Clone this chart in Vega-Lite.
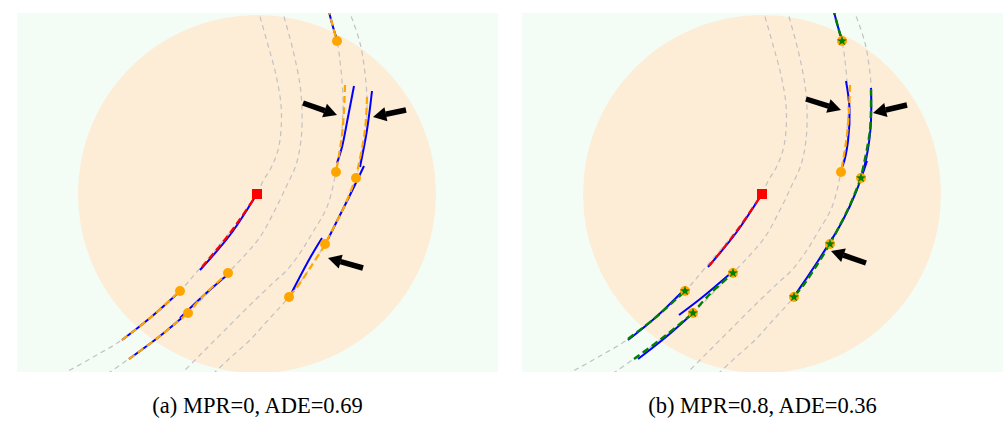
{
  "$schema": "https://vega.github.io/schema/vega-lite/v6.json",
  "background": "white",
  "padding": {"left": 17, "top": 13, "right": 0, "bottom": 0},
  "spacing": 24,
  "config": {
    "view": {"fill": "#f3fdf5", "stroke": null},
    "title": {"font": "Liberation Serif", "fontSize": 22.5, "fontWeight": "normal", "color": "#000000", "orient": "bottom", "offset": 23, "anchor": "middle"}
  },
  "datasets": {
    "circle": [{"x": 0, "y": 0}],
    "lanes": [
      {"lane": "G1", "x": 0.05, "y": 18.6}, {"lane": "G1", "x": 1.1, "y": 14.9}, {"lane": "G1", "x": 1.9, "y": 11.9}, {"lane": "G1", "x": 2.4, "y": 8.9}, {"lane": "G1", "x": 2.4, "y": 6.4}, {"lane": "G1", "x": 2.1, "y": 4.4}, {"lane": "G1", "x": 1.4, "y": 2.6}, {"lane": "G1", "x": 0.6, "y": 1.3}, {"lane": "G1", "x": 0, "y": 0}, {"lane": "G1", "x": -2.7, "y": -3.8}, {"lane": "G1", "x": -5.7, "y": -7.4}, {"lane": "G1", "x": -7.7, "y": -9.7}, {"lane": "G1", "x": -10.7, "y": -12.4}, {"lane": "G1", "x": -13.5, "y": -14.6}, {"lane": "G1", "x": -16.2, "y": -16.2}, {"lane": "G1", "x": -18.7, "y": -17.6}, {"lane": "G1", "x": -19.7, "y": -18.1},
      {"lane": "G2", "x": 2.45, "y": 18.6}, {"lane": "G2", "x": 3.6, "y": 14.4}, {"lane": "G2", "x": 4.3, "y": 10.9}, {"lane": "G2", "x": 4.5, "y": 8.4}, {"lane": "G2", "x": 4.4, "y": 5.4}, {"lane": "G2", "x": 3.9, "y": 2.9}, {"lane": "G2", "x": 3.0, "y": 0.9}, {"lane": "G2", "x": 1.8, "y": -1.6}, {"lane": "G2", "x": 0.3, "y": -4.3}, {"lane": "G2", "x": -1.2, "y": -6.1}, {"lane": "G2", "x": -2.9, "y": -7.9}, {"lane": "G2", "x": -4.7, "y": -9.7}, {"lane": "G2", "x": -6.9, "y": -11.9}, {"lane": "G2", "x": -9.7, "y": -14.2}, {"lane": "G2", "x": -12.7, "y": -16.4}, {"lane": "G2", "x": -14.7, "y": -17.8}, {"lane": "G2", "x": -15.5, "y": -18.3},
      {"lane": "G3", "x": 7.1, "y": 18.6}, {"lane": "G3", "x": 8.0, "y": 15.3}, {"lane": "G3", "x": 8.4, "y": 12.4}, {"lane": "G3", "x": 8.6, "y": 9.4}, {"lane": "G3", "x": 8.5, "y": 6.4}, {"lane": "G3", "x": 8.2, "y": 3.9}, {"lane": "G3", "x": 7.9, "y": 2.2}, {"lane": "G3", "x": 7.0, "y": -1.3}, {"lane": "G3", "x": 5.6, "y": -3.8}, {"lane": "G3", "x": 4.3, "y": -5.9}, {"lane": "G3", "x": 3.0, "y": -7.6}, {"lane": "G3", "x": 1.6, "y": -8.9}, {"lane": "G3", "x": -0.7, "y": -11.1}, {"lane": "G3", "x": -3.2, "y": -13.6}, {"lane": "G3", "x": -5.2, "y": -15.6}, {"lane": "G3", "x": -7.2, "y": -17.6}, {"lane": "G3", "x": -7.9, "y": -18.2},
      {"lane": "G4", "x": 9.1, "y": 18.6}, {"lane": "G4", "x": 10.3, "y": 15.1}, {"lane": "G4", "x": 10.9, "y": 11.1}, {"lane": "G4", "x": 11.0, "y": 8.4}, {"lane": "G4", "x": 10.7, "y": 5.4}, {"lane": "G4", "x": 10.3, "y": 3.4}, {"lane": "G4", "x": 9.9, "y": 1.6}, {"lane": "G4", "x": 8.8, "y": -1.1}, {"lane": "G4", "x": 7.8, "y": -3.1}, {"lane": "G4", "x": 6.8, "y": -5.0}, {"lane": "G4", "x": 5.3, "y": -7.4}, {"lane": "G4", "x": 3.2, "y": -10.3}, {"lane": "G4", "x": 1.3, "y": -12.4}, {"lane": "G4", "x": -0.7, "y": -14.6}, {"lane": "G4", "x": -2.7, "y": -16.4}, {"lane": "G4", "x": -4.2, "y": -17.8}, {"lane": "G4", "x": -4.9, "y": -18.4}
    ],
    "tracks": [
      {"panel": "a", "kind": "blue", "id": "a1", "x": -13.5, "y": -14.6}, {"panel": "a", "kind": "blue", "id": "a1", "x": -10.7, "y": -12.4}, {"panel": "a", "kind": "blue", "id": "a1", "x": -8.0, "y": -10.0},
      {"panel": "a", "kind": "blue", "id": "a2", "x": -12.8, "y": -16.5}, {"panel": "a", "kind": "blue", "id": "a2", "x": -9.7, "y": -14.2}, {"panel": "a", "kind": "blue", "id": "a2", "x": -7.3, "y": -12.2},
      {"panel": "a", "kind": "blue", "id": "a3", "x": -7.7, "y": -12.4}, {"panel": "a", "kind": "blue", "id": "a3", "x": -5.4, "y": -10.2}, {"panel": "a", "kind": "blue", "id": "a3", "x": -3.1, "y": -8.2},
      {"panel": "a", "kind": "blue", "id": "a4", "x": -5.7, "y": -7.6}, {"panel": "a", "kind": "blue", "id": "a4", "x": -2.7, "y": -4.1}, {"panel": "a", "kind": "blue", "id": "a4", "x": -0.2, "y": -0.3},
      {"panel": "a", "kind": "blue", "id": "a5", "x": 7.1, "y": 18.6}, {"panel": "a", "kind": "blue", "id": "a5", "x": 7.6, "y": 16.7}, {"panel": "a", "kind": "blue", "id": "a5", "x": 7.95, "y": 15.6},
      {"panel": "a", "kind": "blue", "id": "a6", "x": 9.7, "y": 10.8}, {"panel": "a", "kind": "blue", "id": "a6", "x": 9.1, "y": 7.7}, {"panel": "a", "kind": "blue", "id": "a6", "x": 8.5, "y": 4.7}, {"panel": "a", "kind": "blue", "id": "a6", "x": 8.0, "y": 3.1},
      {"panel": "a", "kind": "blue", "id": "a7", "x": 11.5, "y": 10.3}, {"panel": "a", "kind": "blue", "id": "a7", "x": 11.0, "y": 6.4}, {"panel": "a", "kind": "blue", "id": "a7", "x": 10.3, "y": 2.7},
      {"panel": "a", "kind": "blue", "id": "a8", "x": 10.7, "y": 2.8}, {"panel": "a", "kind": "blue", "id": "a8", "x": 9.3, "y": -0.1}, {"panel": "a", "kind": "blue", "id": "a8", "x": 8.0, "y": -2.7}, {"panel": "a", "kind": "blue", "id": "a8", "x": 7.1, "y": -4.5},
      {"panel": "a", "kind": "blue", "id": "a9", "x": 6.5, "y": -4.4}, {"panel": "a", "kind": "blue", "id": "a9", "x": 5.3, "y": -6.4}, {"panel": "a", "kind": "blue", "id": "a9", "x": 3.5, "y": -9.8},
      {"panel": "a", "kind": "orange", "id": "a1", "x": -13.5, "y": -14.6}, {"panel": "a", "kind": "orange", "id": "a1", "x": -10.7, "y": -12.4}, {"panel": "a", "kind": "orange", "id": "a1", "x": -7.7, "y": -9.7},
      {"panel": "a", "kind": "orange", "id": "a2", "x": -12.8, "y": -16.5}, {"panel": "a", "kind": "orange", "id": "a2", "x": -9.7, "y": -14.2}, {"panel": "a", "kind": "orange", "id": "a2", "x": -6.9, "y": -11.9},
      {"panel": "a", "kind": "orange", "id": "a3", "x": -7.1, "y": -12.1}, {"panel": "a", "kind": "orange", "id": "a3", "x": -5.2, "y": -10.0}, {"panel": "a", "kind": "orange", "id": "a3", "x": -2.9, "y": -7.9},
      {"panel": "a", "kind": "orange", "id": "a5", "x": 7.1, "y": 18.6}, {"panel": "a", "kind": "orange", "id": "a5", "x": 7.6, "y": 16.7}, {"panel": "a", "kind": "orange", "id": "a5", "x": 8.0, "y": 15.3},
      {"panel": "a", "kind": "orange", "id": "a6", "x": 8.8, "y": 10.9}, {"panel": "a", "kind": "orange", "id": "a6", "x": 8.7, "y": 8.4}, {"panel": "a", "kind": "orange", "id": "a6", "x": 8.5, "y": 5.9}, {"panel": "a", "kind": "orange", "id": "a6", "x": 8.2, "y": 3.9}, {"panel": "a", "kind": "orange", "id": "a6", "x": 7.9, "y": 2.2},
      {"panel": "a", "kind": "orange", "id": "a7", "x": 11.0, "y": 9.7}, {"panel": "a", "kind": "orange", "id": "a7", "x": 10.8, "y": 6.4}, {"panel": "a", "kind": "orange", "id": "a7", "x": 10.0, "y": 2.1}, {"panel": "a", "kind": "orange", "id": "a7", "x": 9.9, "y": 1.6},
      {"panel": "a", "kind": "orange", "id": "a8", "x": 10.0, "y": 1.9}, {"panel": "a", "kind": "orange", "id": "a8", "x": 8.8, "y": -1.1}, {"panel": "a", "kind": "orange", "id": "a8", "x": 7.8, "y": -3.1}, {"panel": "a", "kind": "orange", "id": "a8", "x": 6.8, "y": -5.0},
      {"panel": "a", "kind": "orange", "id": "a9", "x": 6.8, "y": -5.1}, {"panel": "a", "kind": "orange", "id": "a9", "x": 5.5, "y": -7.1}, {"panel": "a", "kind": "orange", "id": "a9", "x": 4.3, "y": -8.9}, {"panel": "a", "kind": "orange", "id": "a9", "x": 3.2, "y": -10.3},
      {"panel": "a", "kind": "red", "id": "a4", "x": -5.5, "y": -7.3}, {"panel": "a", "kind": "red", "id": "a4", "x": -2.7, "y": -3.9}, {"panel": "a", "kind": "red", "id": "a4", "x": 0, "y": 0},
      {"panel": "b", "kind": "blue", "id": "b1", "x": -13.4, "y": -14.6}, {"panel": "b", "kind": "blue", "id": "b1", "x": -10.7, "y": -12.4}, {"panel": "b", "kind": "blue", "id": "b1", "x": -7.9, "y": -9.7},
      {"panel": "b", "kind": "blue", "id": "b2", "x": -12.4, "y": -16.5}, {"panel": "b", "kind": "blue", "id": "b2", "x": -9.6, "y": -14.3}, {"panel": "b", "kind": "blue", "id": "b2", "x": -7.0, "y": -12.0},
      {"panel": "b", "kind": "blue", "id": "b3", "x": -8.3, "y": -12.1}, {"panel": "b", "kind": "blue", "id": "b3", "x": -6.0, "y": -10.35}, {"panel": "b", "kind": "blue", "id": "b3", "x": -3.1, "y": -7.9},
      {"panel": "b", "kind": "blue", "id": "b4", "x": -5.4, "y": -7.3}, {"panel": "b", "kind": "blue", "id": "b4", "x": -2.6, "y": -3.9}, {"panel": "b", "kind": "blue", "id": "b4", "x": -0.2, "y": -0.3},
      {"panel": "b", "kind": "blue", "id": "b5", "x": 7.1, "y": 18.6}, {"panel": "b", "kind": "blue", "id": "b5", "x": 7.6, "y": 16.7}, {"panel": "b", "kind": "blue", "id": "b5", "x": 7.95, "y": 15.6},
      {"panel": "b", "kind": "blue", "id": "b6", "x": 8.4, "y": 11.3}, {"panel": "b", "kind": "blue", "id": "b6", "x": 8.75, "y": 8.6}, {"panel": "b", "kind": "blue", "id": "b6", "x": 8.6, "y": 5.3}, {"panel": "b", "kind": "blue", "id": "b6", "x": 8.1, "y": 2.9}, {"panel": "b", "kind": "blue", "id": "b6", "x": 7.85, "y": 2.4},
      {"panel": "b", "kind": "blue", "id": "b7", "x": 10.9, "y": 10.6}, {"panel": "b", "kind": "blue", "id": "b7", "x": 10.85, "y": 6.5}, {"panel": "b", "kind": "blue", "id": "b7", "x": 10.2, "y": 2.6}, {"panel": "b", "kind": "blue", "id": "b7", "x": 9.9, "y": 1.8},
      {"panel": "b", "kind": "blue", "id": "b8", "x": 10.5, "y": 3.3}, {"panel": "b", "kind": "blue", "id": "b8", "x": 9.4, "y": 0.2}, {"panel": "b", "kind": "blue", "id": "b8", "x": 8.1, "y": -2.6}, {"panel": "b", "kind": "blue", "id": "b8", "x": 7.0, "y": -4.5},
      {"panel": "b", "kind": "blue", "id": "b9", "x": 7.1, "y": -4.3}, {"panel": "b", "kind": "blue", "id": "b9", "x": 5.6, "y": -6.7}, {"panel": "b", "kind": "blue", "id": "b9", "x": 4.4, "y": -8.5}, {"panel": "b", "kind": "blue", "id": "b9", "x": 3.3, "y": -10.1},
      {"panel": "b", "kind": "orange", "id": "b6", "x": 8.8, "y": 10.9}, {"panel": "b", "kind": "orange", "id": "b6", "x": 8.7, "y": 8.4}, {"panel": "b", "kind": "orange", "id": "b6", "x": 8.5, "y": 5.9}, {"panel": "b", "kind": "orange", "id": "b6", "x": 8.2, "y": 3.9}, {"panel": "b", "kind": "orange", "id": "b6", "x": 7.9, "y": 2.2},
      {"panel": "b", "kind": "green", "id": "b1", "x": -13.4, "y": -14.5}, {"panel": "b", "kind": "green", "id": "b1", "x": -10.7, "y": -12.4}, {"panel": "b", "kind": "green", "id": "b1", "x": -7.7, "y": -9.7},
      {"panel": "b", "kind": "green", "id": "b2", "x": -12.8, "y": -16.5}, {"panel": "b", "kind": "green", "id": "b2", "x": -9.7, "y": -14.2}, {"panel": "b", "kind": "green", "id": "b2", "x": -6.9, "y": -11.9},
      {"panel": "b", "kind": "green", "id": "b3", "x": -7.1, "y": -12.1}, {"panel": "b", "kind": "green", "id": "b3", "x": -5.2, "y": -10.0}, {"panel": "b", "kind": "green", "id": "b3", "x": -2.9, "y": -7.9},
      {"panel": "b", "kind": "green", "id": "b5", "x": 7.1, "y": 18.6}, {"panel": "b", "kind": "green", "id": "b5", "x": 7.6, "y": 16.7}, {"panel": "b", "kind": "green", "id": "b5", "x": 8.0, "y": 15.3},
      {"panel": "b", "kind": "green", "id": "b7", "x": 10.9, "y": 10.5}, {"panel": "b", "kind": "green", "id": "b7", "x": 10.8, "y": 6.4}, {"panel": "b", "kind": "green", "id": "b7", "x": 10.0, "y": 2.1}, {"panel": "b", "kind": "green", "id": "b7", "x": 9.9, "y": 1.6},
      {"panel": "b", "kind": "green", "id": "b8", "x": 9.9, "y": 1.6}, {"panel": "b", "kind": "green", "id": "b8", "x": 8.8, "y": -1.1}, {"panel": "b", "kind": "green", "id": "b8", "x": 7.8, "y": -3.1}, {"panel": "b", "kind": "green", "id": "b8", "x": 6.8, "y": -5.0},
      {"panel": "b", "kind": "green", "id": "b9", "x": 6.8, "y": -5.0}, {"panel": "b", "kind": "green", "id": "b9", "x": 5.5, "y": -7.1}, {"panel": "b", "kind": "green", "id": "b9", "x": 4.3, "y": -8.9}, {"panel": "b", "kind": "green", "id": "b9", "x": 3.2, "y": -10.3},
      {"panel": "b", "kind": "red", "id": "b4", "x": -5.3, "y": -7.2}, {"panel": "b", "kind": "red", "id": "b4", "x": -2.6, "y": -3.8}, {"panel": "b", "kind": "red", "id": "b4", "x": 0, "y": 0}
    ],
    "points": [
      {"panel": "a", "kind": "dot", "x": 8.0, "y": 15.3}, {"panel": "a", "kind": "dot", "x": 7.9, "y": 2.2}, {"panel": "a", "kind": "dot", "x": 9.9, "y": 1.6}, {"panel": "a", "kind": "dot", "x": 6.8, "y": -5.0}, {"panel": "a", "kind": "dot", "x": 3.2, "y": -10.3}, {"panel": "a", "kind": "dot", "x": -7.7, "y": -9.7}, {"panel": "a", "kind": "dot", "x": -6.9, "y": -11.9}, {"panel": "a", "kind": "dot", "x": -2.9, "y": -7.9},
      {"panel": "a", "kind": "ego", "x": 0, "y": 0},
      {"panel": "b", "kind": "dot", "x": 8.0, "y": 15.3}, {"panel": "b", "kind": "dot", "x": 7.9, "y": 2.2}, {"panel": "b", "kind": "dot", "x": 9.9, "y": 1.6}, {"panel": "b", "kind": "dot", "x": 6.8, "y": -5.0}, {"panel": "b", "kind": "dot", "x": 3.2, "y": -10.3}, {"panel": "b", "kind": "dot", "x": -7.7, "y": -9.7}, {"panel": "b", "kind": "dot", "x": -6.9, "y": -11.9}, {"panel": "b", "kind": "dot", "x": -2.9, "y": -7.9},
      {"panel": "b", "kind": "star", "x": 8.0, "y": 15.3}, {"panel": "b", "kind": "star", "x": 9.9, "y": 1.6}, {"panel": "b", "kind": "star", "x": 6.8, "y": -5.0}, {"panel": "b", "kind": "star", "x": 3.2, "y": -10.3}, {"panel": "b", "kind": "star", "x": -7.7, "y": -9.7}, {"panel": "b", "kind": "star", "x": -6.9, "y": -11.9}, {"panel": "b", "kind": "star", "x": -2.9, "y": -7.9},
      {"panel": "b", "kind": "ego", "x": 0, "y": 0}
    ],
    "arrows": [
      {"panel": "a", "x": 4.6, "y": 9.1, "xn": 6.77, "yn": 8.33, "xt": 8.0, "yt": 7.9},
      {"panel": "a", "x": 14.9, "y": 8.4, "xn": 12.87, "yn": 7.97, "xt": 11.6, "yt": 7.7},
      {"panel": "a", "x": 10.6, "y": -7.4, "xn": 8.35, "yn": -6.76, "xt": 7.1, "yt": -6.4},
      {"panel": "b", "x": 4.4, "y": 9.5, "xn": 6.66, "yn": 8.79, "xt": 7.9, "yt": 8.4},
      {"panel": "b", "x": 14.5, "y": 8.9, "xn": 12.37, "yn": 8.4, "xt": 11.1, "yt": 8.1},
      {"panel": "b", "x": 10.4, "y": -6.9, "xn": 8.13, "yn": -6.12, "xt": 6.9, "yt": -5.7}
    ]
  },
  "hconcat": [
    {
      "width": 481, "height": 359,
      "title": {"text": "(a) MPR=0, ADE=0.69"},
      "encoding": {
        "x": {"field": "x", "type": "quantitative", "scale": {"domain": [-24, 24.1], "nice": false, "zero": false}, "axis": null},
        "y": {"field": "y", "type": "quantitative", "scale": {"domain": [-17.8, 18.1], "nice": false, "zero": false}, "axis": null}
      },
      "layer": [
        {"data": {"name": "circle"}, "mark": {"type": "point", "shape": "circle", "filled": true, "size": 128164, "color": "#fdecd6", "opacity": 1, "clip": true}},
        {"data": {"name": "lanes"}, "mark": {"type": "line", "interpolate": "catmull-rom", "color": "#c2c2c2", "strokeWidth": 1.2, "strokeDash": [5, 4], "clip": true}, "encoding": {"detail": {"field": "lane"}, "order": {"value": null}}},
        {"data": {"name": "tracks"}, "transform": [{"filter": "datum.panel == 'a' && datum.kind == 'blue'"}], "mark": {"type": "line", "interpolate": "catmull-rom", "color": "#0000ff", "strokeWidth": 2, "clip": true}, "encoding": {"detail": {"field": "id"}, "order": {"value": null}}},
        {"data": {"name": "tracks"}, "transform": [{"filter": "datum.panel == 'a' && datum.kind == 'orange'"}], "mark": {"type": "line", "interpolate": "catmull-rom", "color": "#ffa500", "strokeWidth": 2.2, "strokeDash": [7, 4], "clip": true}, "encoding": {"detail": {"field": "id"}, "order": {"value": null}}},
        {"data": {"name": "tracks"}, "transform": [{"filter": "datum.panel == 'a' && datum.kind == 'red'"}], "mark": {"type": "line", "interpolate": "catmull-rom", "color": "#ff0000", "strokeWidth": 2.2, "strokeDash": [7, 4], "clip": true}, "encoding": {"detail": {"field": "id"}, "order": {"value": null}}},
        {"data": {"name": "points"}, "transform": [{"filter": "datum.panel == 'a' && datum.kind == 'dot'"}], "mark": {"type": "point", "shape": "circle", "filled": true, "size": 100, "color": "#ffa500", "opacity": 1, "clip": true}},
        {"data": {"name": "points"}, "transform": [{"filter": "datum.panel == 'a' && datum.kind == 'ego'"}], "mark": {"type": "point", "shape": "square", "filled": true, "size": 100, "color": "#ff0000", "opacity": 1, "clip": true}},
        {"data": {"name": "arrows"}, "transform": [{"filter": "datum.panel == 'a'"}], "mark": {"type": "rule", "color": "#000000", "strokeWidth": 5.5, "strokeCap": "butt"}, "encoding": {"x2": {"field": "xn"}, "y2": {"field": "yn"}}},
        {"data": {"name": "arrows"}, "transform": [{"filter": "datum.panel == 'a'"}, {"calculate": "atan2(datum.xt - datum.x, datum.yt - datum.y) * 180 / PI", "as": "ang"}], "mark": {"type": "point", "shape": "M0,0L0.65,1.2L-0.65,1.2Z", "filled": true, "size": 484, "color": "#000000", "opacity": 1}, "encoding": {"x": {"field": "xt", "type": "quantitative"}, "y": {"field": "yt", "type": "quantitative"}, "angle": {"field": "ang", "type": "quantitative", "scale": null}}}
      ]
    },
    {
      "width": 481, "height": 359,
      "title": {"text": "(b) MPR=0.8, ADE=0.36"},
      "encoding": {
        "x": {"field": "x", "type": "quantitative", "scale": {"domain": [-24, 24.1], "nice": false, "zero": false}, "axis": null},
        "y": {"field": "y", "type": "quantitative", "scale": {"domain": [-17.8, 18.1], "nice": false, "zero": false}, "axis": null}
      },
      "layer": [
        {"data": {"name": "circle"}, "mark": {"type": "point", "shape": "circle", "filled": true, "size": 128164, "color": "#fdecd6", "opacity": 1, "clip": true}},
        {"data": {"name": "lanes"}, "mark": {"type": "line", "interpolate": "catmull-rom", "color": "#c2c2c2", "strokeWidth": 1.2, "strokeDash": [5, 4], "clip": true}, "encoding": {"detail": {"field": "lane"}, "order": {"value": null}}},
        {"data": {"name": "tracks"}, "transform": [{"filter": "datum.panel == 'b' && datum.kind == 'blue'"}], "mark": {"type": "line", "interpolate": "catmull-rom", "color": "#0000ff", "strokeWidth": 2, "clip": true}, "encoding": {"detail": {"field": "id"}, "order": {"value": null}}},
        {"data": {"name": "tracks"}, "transform": [{"filter": "datum.panel == 'b' && datum.kind == 'orange'"}], "mark": {"type": "line", "interpolate": "catmull-rom", "color": "#ffa500", "strokeWidth": 2.2, "strokeDash": [7, 4], "clip": true}, "encoding": {"detail": {"field": "id"}, "order": {"value": null}}},
        {"data": {"name": "tracks"}, "transform": [{"filter": "datum.panel == 'b' && datum.kind == 'green'"}], "mark": {"type": "line", "interpolate": "catmull-rom", "color": "#008000", "strokeWidth": 2.4, "strokeDash": [7, 4], "clip": true}, "encoding": {"detail": {"field": "id"}, "order": {"value": null}}},
        {"data": {"name": "tracks"}, "transform": [{"filter": "datum.panel == 'b' && datum.kind == 'red'"}], "mark": {"type": "line", "interpolate": "catmull-rom", "color": "#ff0000", "strokeWidth": 2.2, "strokeDash": [7, 4], "clip": true}, "encoding": {"detail": {"field": "id"}, "order": {"value": null}}},
        {"data": {"name": "points"}, "transform": [{"filter": "datum.panel == 'b' && datum.kind == 'dot'"}], "mark": {"type": "point", "shape": "circle", "filled": true, "size": 100, "color": "#ffa500", "opacity": 1, "clip": true}},
        {"data": {"name": "points"}, "transform": [{"filter": "datum.panel == 'b' && datum.kind == 'star'"}], "mark": {"type": "point", "shape": "M0,-1L0.235,-0.324L0.951,-0.309L0.38,0.124L0.588,0.809L0,0.4L-0.588,0.809L-0.38,0.124L-0.951,-0.309L-0.235,-0.324Z", "filled": true, "size": 110, "color": "#008000", "opacity": 1, "clip": true}},
        {"data": {"name": "points"}, "transform": [{"filter": "datum.panel == 'b' && datum.kind == 'ego'"}], "mark": {"type": "point", "shape": "square", "filled": true, "size": 100, "color": "#ff0000", "opacity": 1, "clip": true}},
        {"data": {"name": "arrows"}, "transform": [{"filter": "datum.panel == 'b'"}], "mark": {"type": "rule", "color": "#000000", "strokeWidth": 5.5, "strokeCap": "butt"}, "encoding": {"x2": {"field": "xn"}, "y2": {"field": "yn"}}},
        {"data": {"name": "arrows"}, "transform": [{"filter": "datum.panel == 'b'"}, {"calculate": "atan2(datum.xt - datum.x, datum.yt - datum.y) * 180 / PI", "as": "ang"}], "mark": {"type": "point", "shape": "M0,0L0.65,1.2L-0.65,1.2Z", "filled": true, "size": 484, "color": "#000000", "opacity": 1}, "encoding": {"x": {"field": "xt", "type": "quantitative"}, "y": {"field": "yt", "type": "quantitative"}, "angle": {"field": "ang", "type": "quantitative", "scale": null}}}
      ]
    }
  ]
}
